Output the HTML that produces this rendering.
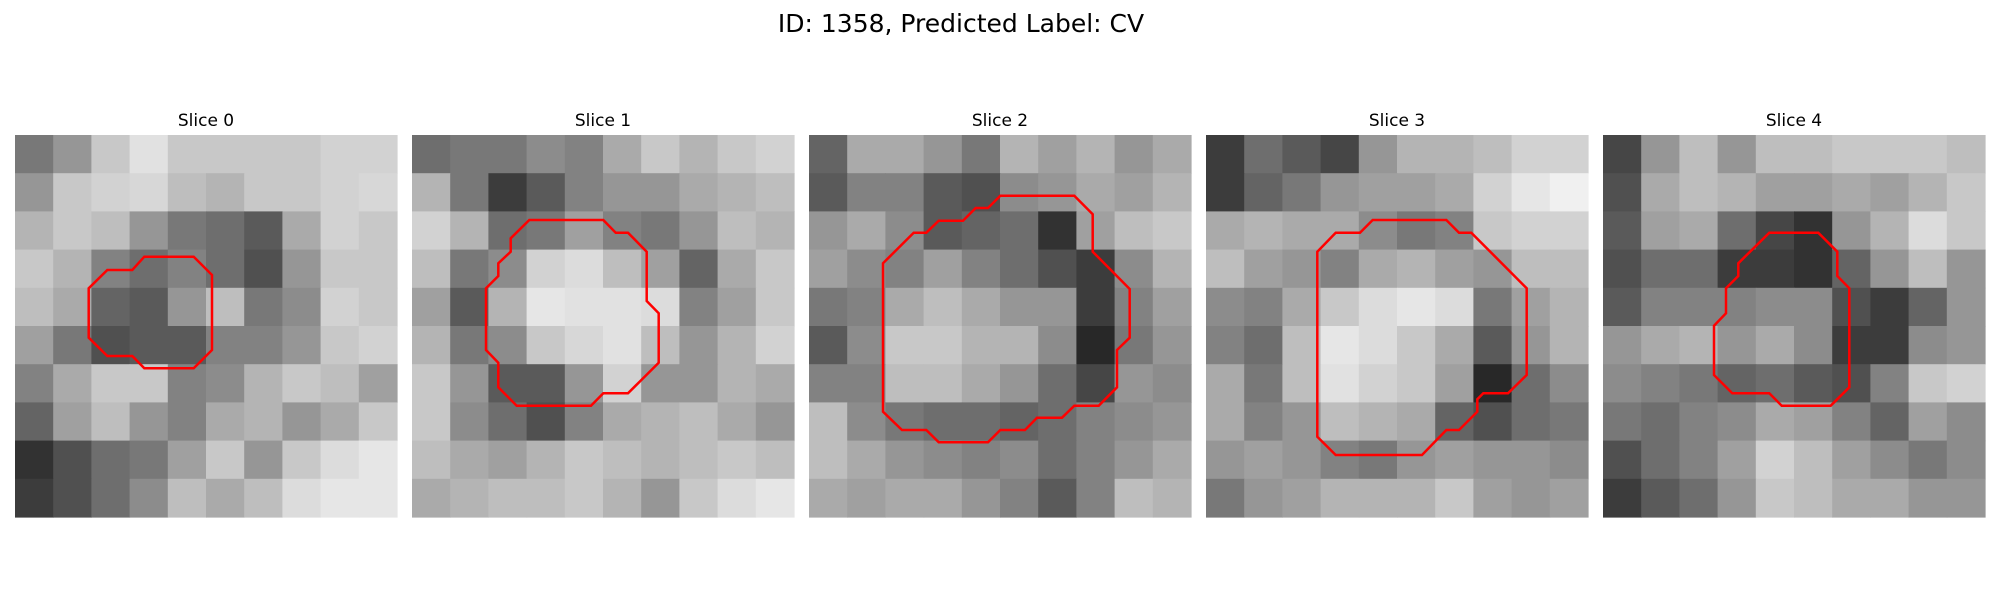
<!DOCTYPE html>
<html><head><meta charset="utf-8"><style>
html,body{margin:0;padding:0;background:#fff;}
#fig{width:2000px;height:600px;position:relative;}
svg text{font-family:"DejaVu Sans","Liberation Sans",sans-serif;}
</style></head><body>
<div id="fig">
<svg id="svg" width="2000" height="600" viewBox="0 0 2000 600" xmlns="http://www.w3.org/2000/svg">
<text x="961" y="32" font-size="25" text-anchor="middle" fill="#000">ID: 1358, Predicted Label: CV</text>
</svg>
</div>
<script>
const panelX = [15, 412, 809, 1206, 1603];
const sliceTitles = ["Slice 0","Slice 1","Slice 2","Slice 3","Slice 4"];
const gray0 = [[120,150,200,225,200,200,200,200,210,210],[150,200,210,215,190,180,200,200,210,215],[180,200,190,150,120,110,90,170,210,200],[200,180,130,110,130,110,80,150,200,200],[190,170,100,90,150,190,120,140,210,200],[160,120,80,90,90,130,130,150,200,210],[130,170,200,200,130,140,180,200,190,160],[100,160,190,150,130,170,180,150,170,200],[50,80,110,120,160,200,150,200,220,230],[60,80,110,140,190,170,190,220,230,230]];
const gray1 = [[110,120,120,140,130,170,200,180,200,210],[180,120,60,90,130,150,150,170,180,190],[210,180,110,120,160,130,120,150,190,180],[190,120,140,210,220,190,160,100,170,200],[160,90,180,230,225,225,220,130,160,200],[180,120,140,200,215,225,190,150,180,210],[200,150,90,90,150,210,150,150,180,170],[200,140,110,80,130,170,180,190,170,150],[190,170,160,180,200,190,180,190,200,190],[170,180,190,190,200,180,150,200,220,230]];
const gray2 = [[100,170,170,150,120,180,160,180,150,170],[90,130,130,90,80,140,150,170,160,180],[150,170,140,90,100,110,50,160,190,200],[160,140,130,160,130,110,80,60,140,180],[120,130,170,190,170,150,150,60,130,160],[90,140,200,200,180,180,140,40,120,150],[130,130,190,190,170,150,110,70,150,140],[190,140,120,110,110,100,110,130,140,150],[190,170,150,140,130,140,110,130,150,170],[170,160,170,170,150,130,90,130,190,180]];
const gray3 = [[60,110,90,70,150,180,180,190,210,210],[60,100,120,150,160,160,170,210,230,240],[170,180,170,170,140,120,130,200,210,210],[190,160,150,130,170,180,160,150,190,190],[140,130,170,200,220,230,220,120,160,180],[130,110,190,230,220,200,170,90,150,180],[170,120,190,225,210,200,160,40,110,140],[170,130,150,190,180,170,100,80,110,120],[150,160,150,130,120,150,160,150,150,140],[120,150,160,180,180,180,200,160,150,160]];
const gray4 = [[70,150,190,150,190,190,200,200,200,190],[80,170,190,180,160,160,170,160,180,200],[90,160,170,110,70,50,150,180,220,200],[80,110,110,60,60,50,100,150,190,150],[90,130,130,130,140,140,80,60,100,150],[150,170,180,150,170,140,60,60,140,150],[140,130,120,100,110,90,80,130,200,210],[120,110,130,140,170,160,130,100,160,140],[80,110,130,160,210,190,160,140,120,140],[60,90,110,150,200,190,170,170,150,150]];
const contour0 = [[388,365],[536,365],[591,420],[591,645],[536,700],[388,700],[352,663],[277,663],[221,608],[221,460],[277,405],[352,405]];
const contour1 = [[352,255],[574,255],[611,293],[648,293],[704,350],[704,498],[740,535],[740,683],[648,775],[574,775],[537,812],[314,812],[259,757],[259,683],[222,645],[222,460],[259,423],[259,385],[296,350],[296,310]];
const contour2 = [[574,182],[796,182],[851,238],[851,350],[962,462],[962,608],[924,645],[924,757],[869,812],[796,812],[759,848],[684,848],[648,885],[574,885],[537,922],[389,922],[352,885],[279,885],[222,830],[222,385],[314,293],[352,293],[389,257],[462,257],[500,219],[537,219]];
const contour3 = [[500,255],[721,255],[759,293],[796,293],[962,460],[962,720],[906,775],[832,775],[814,793],[814,830],[759,885],[721,885],[648,960],[389,960],[334,905],[334,350],[389,293],[462,293]];
const contour4 = [[499,293],[646,293],[703,350],[703,423],[739,460],[739,757],[683,812],[536,812],[499,775],[388,775],[333,720],[333,572],[369,535],[369,460],[406,423],[406,385]];

const grays=[gray0,gray1,gray2,gray3,gray4];
const contours=[contour0,contour1,contour2,contour3,contour4];
const NS="http://www.w3.org/2000/svg";
const svg=document.getElementById('svg');
const PY=135, PS=382;
function mk(t,a){const e=document.createElementNS(NS,t);for(const k in a)e.setAttribute(k,a[k]);return e;}
for(let p=0;p<5;p++){
  const g=mk('g',{});
  
  
  const x0=panelX[p];
  const t=mk('text',{x:x0+PS/2,y:126,'font-size':17,'text-anchor':'middle',fill:'#000'});
  t.textContent=sliceTitles[p];
  
  
  g.appendChild(t);
  const img=mk('g',{});
  
  
  const G=grays[p], n=G.length, c=PS/n;
  for(let r=0;r<n;r++)for(let q=0;q<n;q++){
    const v=G[r][q];
    const rect=mk('rect',{x:(x0+q*c).toFixed(2),y:(PY+r*c).toFixed(2),width:(c+0.6).toFixed(2),height:(c+0.6).toFixed(2),fill:`rgb(${v},${v},${v})`});
    
    
    img.appendChild(rect);
  }
  g.appendChild(img);
  const pts=contours[p].map(([a,b])=>(x0+a/3).toFixed(1)+','+(PY+b/3).toFixed(1)).join(' ');
  const poly=mk('polygon',{points:pts,fill:'none',stroke:'#ff0000','stroke-width':2.5,'stroke-linejoin':'miter'});
  
  
  g.appendChild(poly);
  svg.appendChild(g);
}
</script>
</body></html>
